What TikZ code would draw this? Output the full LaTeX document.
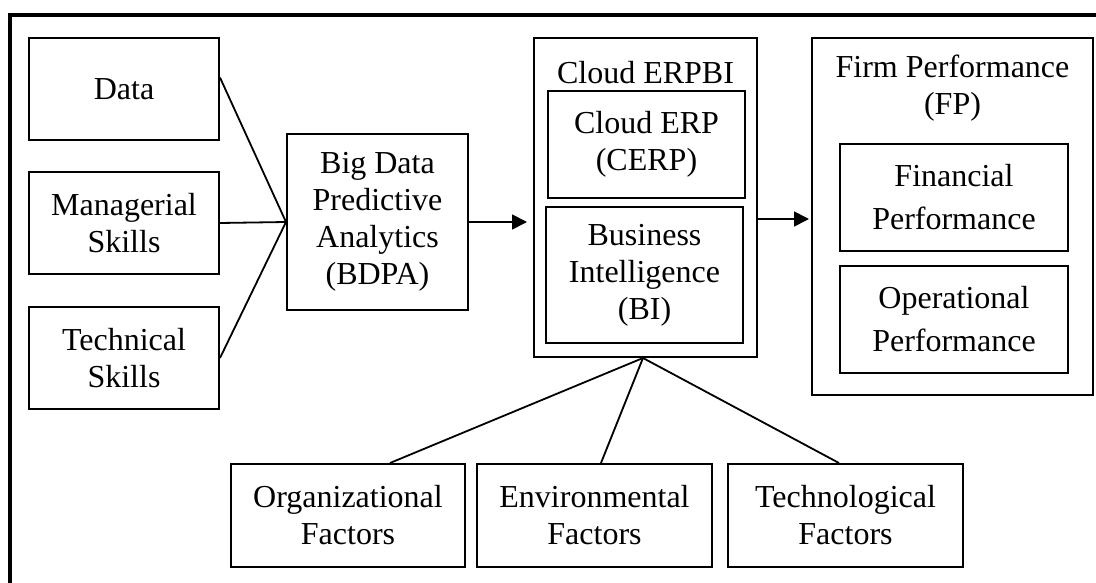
\documentclass[tikz,border=0pt]{standalone}
\usepackage{fontspec}
\setmainfont{Liberation Serif}
\usetikzlibrary{arrows.meta,calc}
\begin{document}
\begin{tikzpicture}[x=1pt,y=-1pt,
  box/.style={draw,line width=2pt,inner sep=0pt,align=center,font=\fontsize{32}{37}\selectfont},
  widebox/.style={box,font=\fontsize{32}{43}\selectfont},
  lbl/.style={inner sep=0pt,align=center,font=\fontsize{32}{37}\selectfont},
  conn/.style={line width=1.8pt},
  arr/.style={line width=1.8pt,-{Triangle[length=15pt,width=15pt]}}]
\useasboundingbox (0,0) rectangle (1096,583);
\begin{scope}
\clip (0,0) rectangle (1096,583);
\draw[line width=3.6pt] (10,15) rectangle (1120,610);
\end{scope}
% left inputs
\node[box,minimum width=190pt,minimum height=102pt] (data) at (124,89) {Data};
\node[box,minimum width=190pt,minimum height=102pt] (mgr) at (124,223) {Managerial\\Skills};
\node[box,minimum width=190pt,minimum height=102pt] (tech) at (124,358) {Technical\\Skills};
% BDPA
\node[box,minimum width=181pt,minimum height=176pt] (bdpa) at (377.5,222) {Big Data\\Predictive\\Analytics\\(BDPA)};
% Cloud ERPBI
\node[box,minimum width=223pt,minimum height=319pt] (erpbi) at (645.5,197.5) {};
\node[lbl] (erpbit) at (645.5,73) {Cloud ERPBI};
\node[box,minimum width=197pt,minimum height=107pt] (cerp) at (646.5,144.5) {Cloud ERP\\(CERP)};
\node[box,minimum width=197pt,minimum height=136pt] (bi) at (644.5,275) {Business\\Intelligence\\(BI)};
% Firm performance
\node[box,minimum width=281pt,minimum height=357pt] (fp) at (952.5,216.5) {};
\node[lbl] (fpt) at (952.5,88) {Firm Performance\\(FP)};
\node[widebox,minimum width=228pt,minimum height=107pt] (fin) at (954,197.5) {Financial\\Performance};
\node[widebox,minimum width=228pt,minimum height=107pt] (op) at (954,319.5) {Operational\\Performance};
% factors
\node[box,minimum width=234pt,minimum height=103pt] (org) at (348,515.5) {Organizational\\Factors};
\node[box,minimum width=235pt,minimum height=103pt] (env) at (594.5,515.5) {Environmental\\Factors};
\node[box,minimum width=235pt,minimum height=103pt] (techf) at (845.5,515.5) {Technological\\Factors};
% connectors
\coordinate (dout) at ($(data.north east)!0.39!(data.south east)$);
\draw[conn] (dout) -- (bdpa.west);
\draw[conn] (mgr.east) -- (bdpa.west);
\draw[conn] (tech.east) -- (bdpa.west);
\draw[arr,shorten >=6pt] (bdpa.east) -- (erpbi.west |- bdpa.east);
\coordinate (eout) at ($(erpbi.east)+(0,21.5)$);
\draw[arr,shorten >=2pt] (eout) -- (fp.west |- eout);
\coordinate (ebot) at ($(erpbi.south)+(-2.5,0)$);
\draw[conn] (ebot) -- ($(org.north)+(42,0)$);
\draw[conn] (ebot) -- ($(env.north)+(6.5,0)$);
\draw[conn] (ebot) -- ($(techf.north)+(-6.5,0)$);
\end{tikzpicture}
\end{document}
